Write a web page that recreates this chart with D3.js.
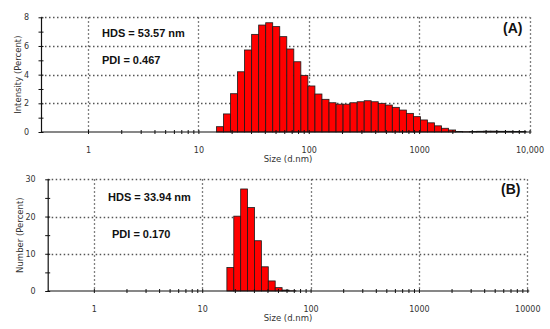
<!doctype html>
<html>
<head>
  <script src="https://cdnjs.cloudflare.com/ajax/libs/d3/7.8.5/d3.min.js"></script>
  <style>
    body { margin: 0; background: #fff; }
    svg { display: block; }
    .tick text { font-family: "DejaVu Sans", sans-serif; font-size: 8px; fill: #333; }
    .axis path, .axis line { stroke: #111; }
    .grid line { stroke: #555; stroke-width: 1.3; stroke-dasharray: 1.5, 2.5; }
    .title { font-family: "DejaVu Sans", sans-serif; font-size: 8.5px; fill: #333; }
    .note { font-family: "Liberation Sans", Arial, sans-serif; font-weight: bold; font-size: 11px; fill: #111; }
    .tag { font-family: "Liberation Sans", Arial, sans-serif; font-weight: bold; font-size: 14px; fill: #111; }
  </style>
</head>
<body>
  <svg id="chart" width="550" height="329"></svg>
  <script>
    // bin centres (d.nm)
    var sizes = [11.70, 13.54, 15.69, 18.17, 21.04, 24.36, 28.21, 32.67, 37.84, 43.82,
      50.75, 58.77, 68.06, 78.82, 91.28, 105.7, 122.4, 141.8, 164.2, 190.1,
      220.2, 255.0, 295.3, 342.0, 396.1, 458.7, 531.2, 615.1, 712.4, 825.0,
      955.4, 1106, 1281, 1484, 1718, 1990, 2305, 2669, 3091, 3580,
      4145, 4801, 5560, 6439, 7456, 8635];

    var intensity = [0, 0, 0.37, 1.26, 2.67, 4.2, 5.72, 6.81, 7.46, 7.62,
      7.35, 6.65, 5.79, 4.9, 3.95, 3.21, 2.65, 2.28, 2.04, 1.94,
      1.94, 2.04, 2.11, 2.18, 2.11, 2.0, 1.88, 1.72, 1.53, 1.3,
      1.07, 0.84, 0.64, 0.43, 0.26, 0.14, 0.03, 0.02, 0.03, 0.05,
      0.06, 0.06, 0.05, 0.05, 0.04, 0.03];

    var number = [0, 0, 0, 6.3, 20.1, 27.4, 22.4, 13.5, 6.5, 2.7,
      0.9, 0.25, 0.05, 0, 0, 0, 0, 0, 0, 0,
      0, 0, 0, 0, 0, 0, 0, 0, 0, 0,
      0, 0, 0, 0, 0, 0, 0, 0, 0, 0,
      0, 0, 0, 0, 0, 0];

    var xMajor = [1, 10, 100, 1000, 10000];
    var xLabelsA = ["1", "10", "100", "1000", "10,000"];
    var xLabelsB = ["1", "10", "100", "1000", "10000"];

    var svg = d3.select("#chart");

    // minor ticks 1..9 per decade, from 1 to 10000
    var xTicks = [];
    xMajor.forEach(function (m, i) {
      if (i == xMajor.length - 1) { xTicks.push(m); return; }
      for (var k = 1; k < 10; k++) xTicks.push(m * k);
    });

    function drawPanel(p) {
      var g = svg.append("g");
      var x = d3.scaleLog().domain([0.375, 10000]).range([p.left, p.right]);
      var y = d3.scaleLinear().domain([0, p.ymax]).range([p.bottom, p.top]);

      // grid
      var grid = g.append("g").attr("class", "grid");
      grid.selectAll(".h").data(p.yLabels.filter(function (d) { return d > 0; }))
        .enter().append("line")
        .attr("x1", p.left).attr("x2", p.right)
        .attr("y1", function (d) { return Math.round(y(d)) + 0.5; })
        .attr("y2", function (d) { return Math.round(y(d)) + 0.5; });
      grid.selectAll(".v").data(xMajor)
        .enter().append("line")
        .attr("x1", function (d) { return Math.round(x(d)) + 0.5; })
        .attr("x2", function (d) { return Math.round(x(d)) + 0.5; })
        .attr("y1", p.top).attr("y2", p.bottom);

      // bars
      var lw = Math.log10(sizes[1] / sizes[0]) / 2;
      var data = sizes.map(function (s, i) { return { s: s, v: p.values[i] }; })
        .filter(function (d) { return d.v > 0; });
      g.selectAll("rect").data(data).enter().append("rect")
        .attr("x", function (d) { return x(d.s / Math.pow(10, lw)); })
        .attr("width", function (d) { return x(d.s * Math.pow(10, lw)) - x(d.s / Math.pow(10, lw)); })
        .attr("y", function (d) { return y(d.v); })
        .attr("height", function (d) { return p.bottom - y(d.v); })
        .attr("fill", "#ff0000")
        .attr("stroke", "#1a1a1a")
        .attr("stroke-width", 0.8);

      // x axis
      var xa = g.append("g").attr("class", "axis")
        .attr("transform", "translate(0," + p.bottom + ")")
        .call(d3.axisBottom(x).tickValues(xTicks).tickSizeOuter(0).tickPadding(9)
          .tickFormat(function (d) {
            var i = xMajor.indexOf(d);
            return i >= 0 ? p.xLabels[i] : "";
          }));
      xa.select(".domain").attr("d", "M" + p.left + ",0H" + (p.right + 2)).attr("stroke-width", 1.2);
      xa.selectAll(".tick line").attr("y1", -2).attr("y2", 2);

      // y axis
      var ya = g.append("g").attr("class", "axis")
        .attr("transform", "translate(" + p.left + ",0)")
        .call(d3.axisLeft(y).tickValues(p.yTicks).tickSizeOuter(0).tickPadding(6)
          .tickFormat(function (d) { return p.yLabels.indexOf(d) >= 0 ? d : ""; }));
      ya.select(".domain").attr("stroke-width", 1.2);
      ya.selectAll(".tick line").attr("x1", -2.5).attr("x2", 2.5);

      // titles
      g.append("text").attr("class", "title")
        .attr("x", 288).attr("y", p.bottom + 30)
        .attr("text-anchor", "middle").text("Size (d.nm)");
      g.append("text").attr("class", "title")
        .attr("transform", "translate(" + p.ylabX + "," + ((p.top + p.bottom) / 2) + ") rotate(-90)")
        .attr("text-anchor", "middle").text(p.yTitle);

      g.append("text").attr("class", "note").attr("x", p.hds[0]).attr("y", p.hds[1]).text(p.hdsText);
      g.append("text").attr("class", "note").attr("x", p.pdi[0]).attr("y", p.pdi[1]).text(p.pdiText);
      g.append("text").attr("class", "tag").attr("x", p.tag[0]).attr("y", p.tag[1]).text(p.tagText);
    }

    drawPanel({
      left: 41, right: 529.5, top: 17.3, bottom: 132,
      ymax: 8, yTicks: d3.range(0, 9, 1), yLabels: [0, 2, 4, 6, 8],
      values: intensity, xLabels: xLabelsA,
      yTitle: "Intensity (Percent)", ylabX: 21,
      hds: [102, 37], hdsText: "HDS = 53.57 nm",
      pdi: [102, 64], pdiText: "PDI = 0.467",
      tag: [503, 33], tagText: "(A)"
    });

    drawPanel({
      left: 47.7, right: 527.3, top: 179.3, bottom: 291,
      ymax: 30, yTicks: d3.range(0, 31, 5), yLabels: [0, 10, 20, 30],
      values: number, xLabels: xLabelsB,
      yTitle: "Number (Percent)", ylabX: 23,
      hds: [108, 200.5], hdsText: "HDS = 33.94 nm",
      pdi: [112, 238], pdiText: "PDI = 0.170",
      tag: [501, 193.5], tagText: "(B)"
    });
  </script>
</body>
</html>
